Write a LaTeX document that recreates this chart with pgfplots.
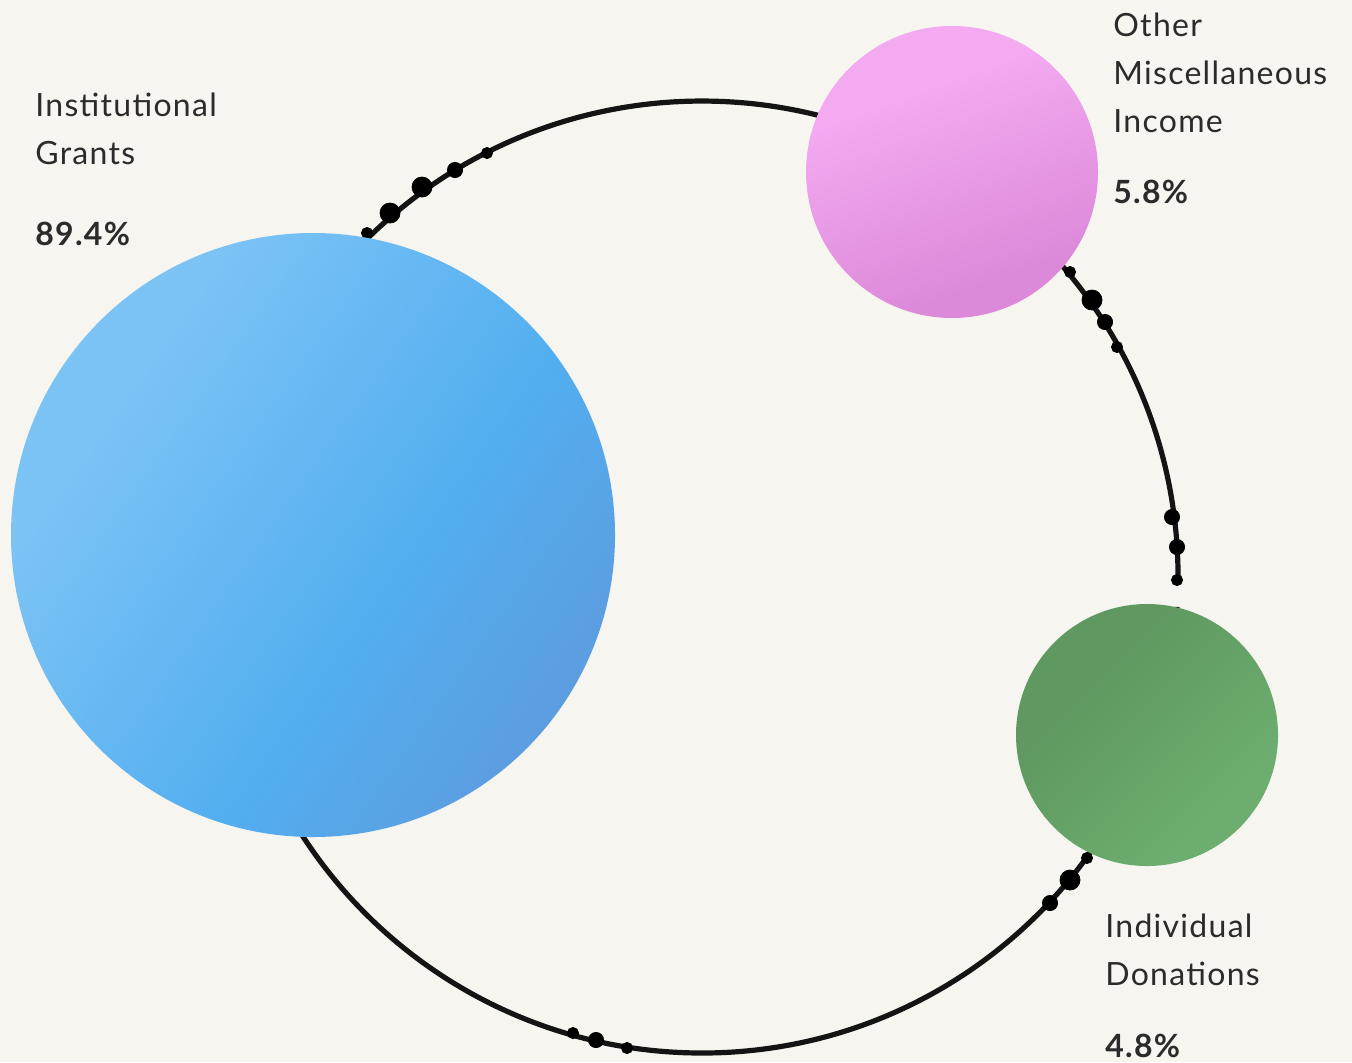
\documentclass[border=0pt]{standalone}
\usepackage{pgfplots}
\pgfplotsset{compat=1.18}
\usepackage{fontspec}
\setmainfont{Lato}[LetterSpace=4]
\definecolor{bg}{HTML}{F6F5EF}
\definecolor{txt}{HTML}{2B2B2B}
\definecolor{blueL}{HTML}{7CC3F5}
\definecolor{blueM}{HTML}{52AEF0}
\definecolor{blueD}{HTML}{5C9DE0}
\definecolor{pinkL}{HTML}{F3AAF1}
\definecolor{pinkD}{HTML}{DC89D9}
\definecolor{greenL}{HTML}{5F9961}
\definecolor{greenD}{HTML}{6DAD6F}
\pgfdeclarehorizontalshading{blueshade}{100bp}{color(0bp)=(blueL); color(30bp)=(blueL); color(58bp)=(blueM); color(75bp)=(blueD); color(100bp)=(blueD)}
\pgfdeclarehorizontalshading{pinkshade}{100bp}{color(0bp)=(pinkL); color(35bp)=(pinkL); color(70bp)=(pinkD); color(100bp)=(pinkD)}
\pgfdeclarehorizontalshading{greenshade}{100bp}{color(0bp)=(greenL); color(35bp)=(greenL); color(70bp)=(greenD); color(100bp)=(greenD)}
\pgfdeclareplotmark{blueball}{\pgfpathcircle{\pgfpointorigin}{\pgfplotmarksize}\pgfshadepath{blueshade}{-35}\pgfusepath{discard}}
\pgfdeclareplotmark{pinkball}{\pgfpathcircle{\pgfpointorigin}{\pgfplotmarksize}\pgfshadepath{pinkshade}{-70}\pgfusepath{discard}}
\pgfdeclareplotmark{greenball}{\pgfpathcircle{\pgfpointorigin}{\pgfplotmarksize}\pgfshadepath{greenshade}{-45}\pgfusepath{discard}}
\begin{document}
\begin{tikzpicture}
\clip (0,0) rectangle (676pt,531pt);
\fill[bg] (0,0) rectangle (676pt,531pt);
\begin{axis}[at={(0,0)}, anchor=south west, scale only axis,
  width=676pt, height=531pt,
  xmin=0, xmax=1352, ymin=0, ymax=1062, y dir=reverse,
  hide axis, clip=false]
% ring
\draw[line width=2.6pt, black!92] (axis cs:1178,582) arc[start angle=-0.6, end angle=356.4, radius=238pt];
% dots on ring
\addplot[only marks, mark=*, black, mark size=5pt] coordinates {(422,187) (390,213) (1092,300) (1070,880)};
\addplot[only marks, mark=*, black, mark size=3.8pt] coordinates {(455,170) (1105,322) (1172,517) (1177,547) (1050,903) (596,1040)};
\addplot[only marks, mark=*, black, mark size=2.8pt] coordinates {(487,153) (367,233) (1070,272) (1117,347) (1177,580) (1087,858) (573,1033) (627,1048)};
% bubbles
\addplot[only marks, mark=blueball, mark size=151pt] coordinates {(313,535)};
\addplot[only marks, mark=pinkball, mark size=73pt] coordinates {(952,172)};
\addplot[only marks, mark=greenball, mark size=65.5pt] coordinates {(1147,735)};
% labels
\begin{scope}[every node/.style={anchor=base west, inner sep=0pt, text=txt, font=\fontsize{16pt}{19pt}\selectfont}]
\node at (axis cs:35,116) {Institutional};
\node at (axis cs:35,164) {Grants};
\node[font=\fontsize{16pt}{19pt}\selectfont\bfseries] at (axis cs:35,245) {89.4\%};
\node at (axis cs:1113,36) {Other};
\node at (axis cs:1113,84) {Miscellaneous};
\node at (axis cs:1113,132) {Income};
\node[font=\fontsize{16pt}{19pt}\selectfont\bfseries] at (axis cs:1113,203) {5.8\%};
\node at (axis cs:1105,937) {Individual};
\node at (axis cs:1105,985) {Donations};
\node[font=\fontsize{16pt}{19pt}\selectfont\bfseries] at (axis cs:1105,1057) {4.8\%};
\end{scope}
\end{axis}
\end{tikzpicture}
\end{document}
